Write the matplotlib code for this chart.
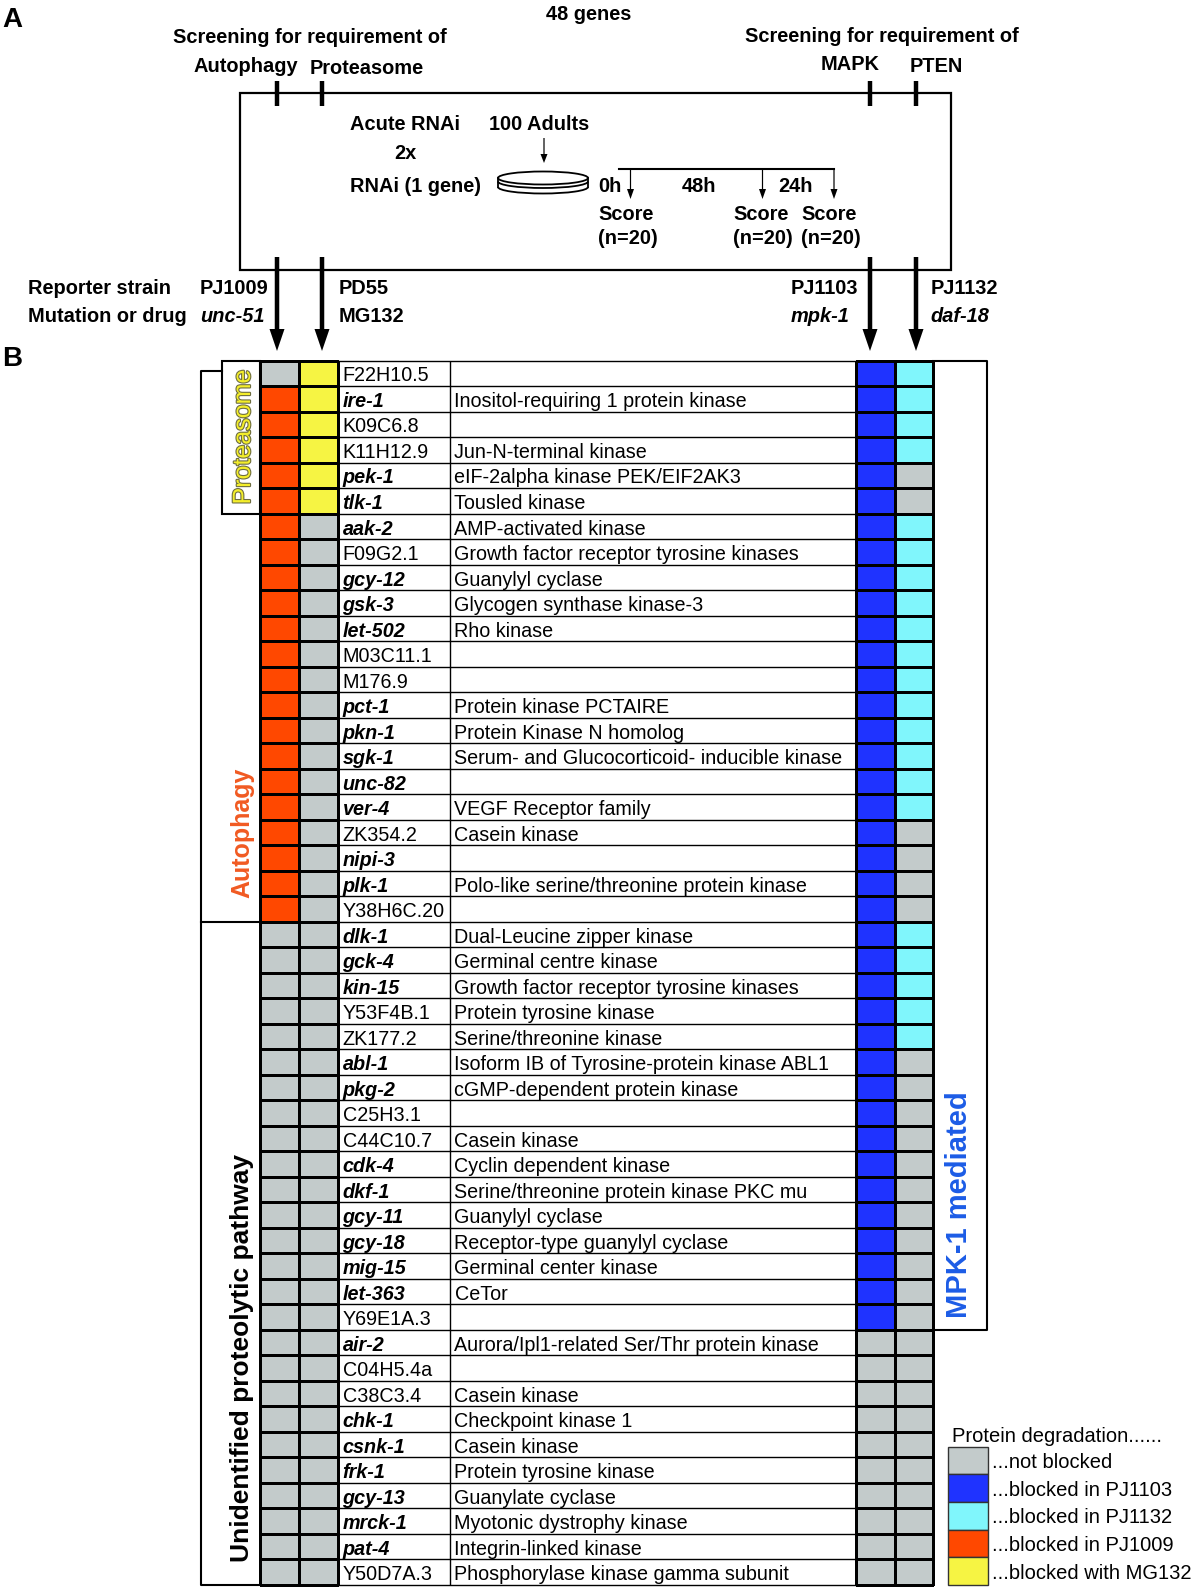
import numpy as np
import matplotlib.pyplot as plt
import matplotlib.patheffects as pe
from matplotlib.colors import ListedColormap
from matplotlib.patches import Rectangle, Ellipse, Arc

plt.rcParams['font.family'] = ['Liberation Sans', 'DejaVu Sans']

# ---- data ----
genes = ['F22H10.5', 'ire-1', 'K09C6.8', 'K11H12.9', 'pek-1', 'tlk-1',
         'aak-2', 'F09G2.1', 'gcy-12', 'gsk-3', 'let-502', 'M03C11.1',
         'M176.9', 'pct-1', 'pkn-1', 'sgk-1', 'unc-82', 'ver-4',
         'ZK354.2', 'nipi-3', 'plk-1', 'Y38H6C.20', 'dlk-1', 'gck-4',
         'kin-15', 'Y53F4B.1', 'ZK177.2', 'abl-1', 'pkg-2', 'C25H3.1',
         'C44C10.7', 'cdk-4', 'dkf-1', 'gcy-11', 'gcy-18', 'mig-15',
         'let-363', 'Y69E1A.3', 'air-2', 'C04H5.4a', 'C38C3.4', 'chk-1',
         'csnk-1', 'frk-1', 'gcy-13', 'mrck-1', 'pat-4', 'Y50D7A.3']
descriptions = ['', 'Inositol-requiring 1 protein kinase', '', 'Jun-N-terminal kinase',
                'eIF-2alpha kinase PEK/EIF2AK3', 'Tousled kinase',
                'AMP-activated kinase', 'Growth factor receptor tyrosine kinases',
                'Guanylyl cyclase', 'Glycogen synthase kinase-3', 'Rho kinase', '',
                '', 'Protein kinase PCTAIRE', 'Protein Kinase N homolog',
                'Serum- and Glucocorticoid- inducible kinase', '', 'VEGF Receptor family',
                'Casein kinase', '', 'Polo-like serine/threonine protein kinase', '',
                'Dual-Leucine zipper kinase', 'Germinal centre kinase',
                'Growth factor receptor tyrosine kinases', 'Protein tyrosine kinase',
                'Serine/threonine kinase', 'Isoform IB of Tyrosine-protein kinase ABL1',
                'cGMP-dependent protein kinase', '',
                'Casein kinase', 'Cyclin dependent kinase',
                'Serine/threonine protein kinase PKC mu', 'Guanylyl cyclase',
                'Receptor-type guanylyl cyclase', 'Germinal center kinase',
                'CeTor', '', 'Aurora/Ipl1-related Ser/Thr protein kinase', '',
                'Casein kinase', 'Checkpoint kinase 1',
                'Casein kinase', 'Protein tyrosine kinase', 'Guanylate cyclase',
                'Myotonic dystrophy kinase', 'Integrin-linked kinase',
                'Phosphorylase kinase gamma subunit']

# status per gene (6 genes per group): N not blocked, B PJ1103, C PJ1132, O PJ1009, Y MG132
pj1009 = "NOOOOO OOOOOO OOOOOO OOOONN NNNNNN NNNNNN NNNNNN NNNNNN".replace(' ', '')
mg132 = "YYYYYY NNNNNN NNNNNN NNNNNN NNNNNN NNNNNN NNNNNN NNNNNN".replace(' ', '')
pj1103 = "BBBBBB BBBBBB BBBBBB BBBBBB BBBBBB BBBBBB BBNNNN NNNNNN".replace(' ', '')
pj1132 = "CCCCNN CCCCCC CCCCCC NNNNCC CCCNNN NNNNNN NNNNNN NNNNNN".replace(' ', '')

keys = 'NBCOY'
key_colors = ['#c3cbcb', '#1f33ff', '#80f6fc', '#ff4800', '#f6f443']
legend_labels = ['...not blocked', '...blocked in PJ1103', '...blocked in PJ1132',
                 '...blocked in PJ1009', '...blocked with MG132']

W, H = 1200, 1595
fig = plt.figure(figsize=(12, 15.95), dpi=100)
ax = fig.add_axes([0, 0, 1, 1])
ax.set_xlim(0, W)
ax.set_ylim(H, 0)
ax.axis('off')

FS = 14.4


def btxt(x, y, s, ha='center', **kw):
    ax.text(x, y, s, ha=ha, va='center_baseline', fontsize=FS, fontweight='bold', **kw)


# ---- panel A ----
ax.text(2, 17, 'A', fontsize=20, fontweight='bold', va='center_baseline')
ax.text(2, 356, 'B', fontsize=20, fontweight='bold', va='center_baseline')
btxt(589, 12, '48 genes')
btxt(310, 35.5, 'Screening for requirement of')
btxt(245.5, 65, 'Autophagy')
btxt(366.5, 67, 'Proteasome')
btxt(882, 34.5, 'Screening for requirement of')
btxt(850.5, 63, 'MAPK')
btxt(936, 65, 'PTEN')

ax.add_patch(Rectangle((240, 92.5), 711, 177, fill=False, lw=1.6, ec='k'))
arrow_x = [277, 322, 870, 916]
for x in arrow_x:
    ax.plot([x, x], [81, 106], color='k', lw=3.2, solid_capstyle='butt')
    ax.arrow(x, 257, 0, 94, width=4.5, head_width=15, head_length=22,
             length_includes_head=True, fc='k', ec='k', lw=0)

btxt(405, 122.5, 'Acute RNAi')
btxt(405, 151.5, '2x')
btxt(416, 185, 'RNAi (1 gene)')
btxt(539.5, 123, '100 Adults')
ax.arrow(544, 138, 0, 25, width=1.2, head_width=7, head_length=9,
         length_includes_head=True, fc='k', ec='k', lw=0)

# dish
ax.add_patch(Ellipse((543, 178), 90, 13, fill=False, lw=1.3, ec='k'))
ax.add_patch(Arc((543, 181.5), 90, 13, theta1=0, theta2=180, lw=1.3, color='k'))
ax.add_patch(Arc((543, 187), 90, 13, theta1=0, theta2=180, lw=1.3, color='k'))
ax.plot([498, 498], [178, 187], color='k', lw=1.3)
ax.plot([588, 588], [178, 187], color='k', lw=1.3)

# timeline
ax.plot([619, 834], [169, 169], color='k', lw=1.5)
for x in [630.5, 762.5, 834]:
    ax.arrow(x, 169, 0, 30, width=1.2, head_width=7, head_length=10,
             length_includes_head=True, fc='k', ec='k', lw=0)
btxt(609.5, 185, '0h')
btxt(699, 185, '48h')
btxt(795.5, 185, '24h')
for x in [626, 761, 829]:
    btxt(x, 212.5, 'Score')
    btxt(x + 1.5, 237, '(n=20)')

btxt(28.5, 287, 'Reporter strain', ha='left')
btxt(28.5, 314, 'Mutation or drug', ha='left')
btxt(199.5, 287, 'PJ1009', ha='left')
btxt(200, 314, 'unc-51', ha='left', style='italic')
btxt(338.5, 287, 'PD55', ha='left')
btxt(338.5, 314, 'MG132', ha='left')
btxt(791, 287, 'PJ1103', ha='left')
btxt(791, 314, 'mpk-1', ha='left', style='italic')
btxt(930.5, 287, 'PJ1132', ha='left')
btxt(930.5, 314, 'daf-18', ha='left', style='italic')

# ---- panel B table ----
TOP, BOT = 360.7, 1585.0
n = len(genes)
tx = fig.add_axes([0, (H - BOT) / H, 1, (BOT - TOP) / H])
tx.set_xlim(0, W)
tx.set_ylim(n, 0)
tx.axis('off')
tx.patch.set_alpha(0)

cmap = ListedColormap(key_colors)


def codes(*cols):
    return np.array([[keys.index(c) for c in col] for col in cols]).T


rows = np.arange(n + 1)
tx.pcolormesh([260, 299.3, 338.3], rows, codes(pj1009, mg132), cmap=cmap,
              vmin=-0.5, vmax=4.5, edgecolors='k', linewidth=1.0, clip_on=False)
tx.pcolormesh([856, 894.6, 933.3], rows, codes(pj1103, pj1132), cmap=cmap,
              vmin=-0.5, vmax=4.5, edgecolors='k', linewidth=1.0, clip_on=False)
tx.hlines(rows, 338.3, 856, color='k', lw=1.0, clip_on=False)
tx.vlines([338.3, 449.5, 856], 0, n, color='k', lw=1.0, clip_on=False)

for i, (g, d) in enumerate(zip(genes, descriptions)):
    if '-' in g:
        tx.text(342.5, i + 0.52, g, va='center_baseline', fontsize=14.2,
                fontweight='bold', style='italic')
    else:
        tx.text(342.5, i + 0.52, g, va='center_baseline', fontsize=14.2)
    tx.text(454.5, i + 0.52, d, va='center_baseline', fontsize=14.2)

# brackets
n_mpk = pj1103.count('B')
n_prot = mg132.count('Y')
n_auto = pj1009.rfind('O') + 1
lk = dict(color='k', lw=1.5, clip_on=False)
tx.plot([933.3, 986.5, 986.5, 933.3], [0, 0, n_mpk, n_mpk], **lk)
tx.add_patch(Rectangle((221.7, 0), 38.3, n_prot, fill=False, ec='k', lw=1.5, clip_on=False))
tx.plot([221.7, 200.5, 200.5, 260], [0.39, 0.39, n, n], **lk)
tx.plot([200.5, 260], [n_auto, n_auto], **lk)

tx.text(243, n_prot / 2, 'Proteasome', rotation=90, ha='center', va='center',
        fontsize=18, color='#f4ee2a',
        path_effects=[pe.withStroke(linewidth=1.6, foreground='#6e6e40')])
tx.text(242, 18.5, 'Autophagy', rotation=90, ha='center', va='center',
        fontsize=18, fontweight='bold', color='#f15a22')
tx.text(241.5, 39.1, 'Unidentified proteolytic pathway', rotation=90, ha='center',
        va='center', fontsize=19, fontweight='bold', color='k')
tx.text(959, 33.1, 'MPK-1 mediated', rotation=90, ha='center', va='center',
        fontsize=21, fontweight='bold', color='#1c5ce6')

# legend
ax.text(952, 1434.5, 'Protein degradation......', va='center_baseline', fontsize=14.5)
sh = 27.66
for k, (c, lab) in enumerate(zip(key_colors, legend_labels)):
    y0 = 1446.7 + k * sh
    ax.add_patch(Rectangle((948, y0), 40, sh, fc=c, ec='#333333', lw=1.0))
    ax.text(991.5, y0 + sh / 2, lab, va='center_baseline', fontsize=14.5)

fig.savefig('out.png', dpi=100)
